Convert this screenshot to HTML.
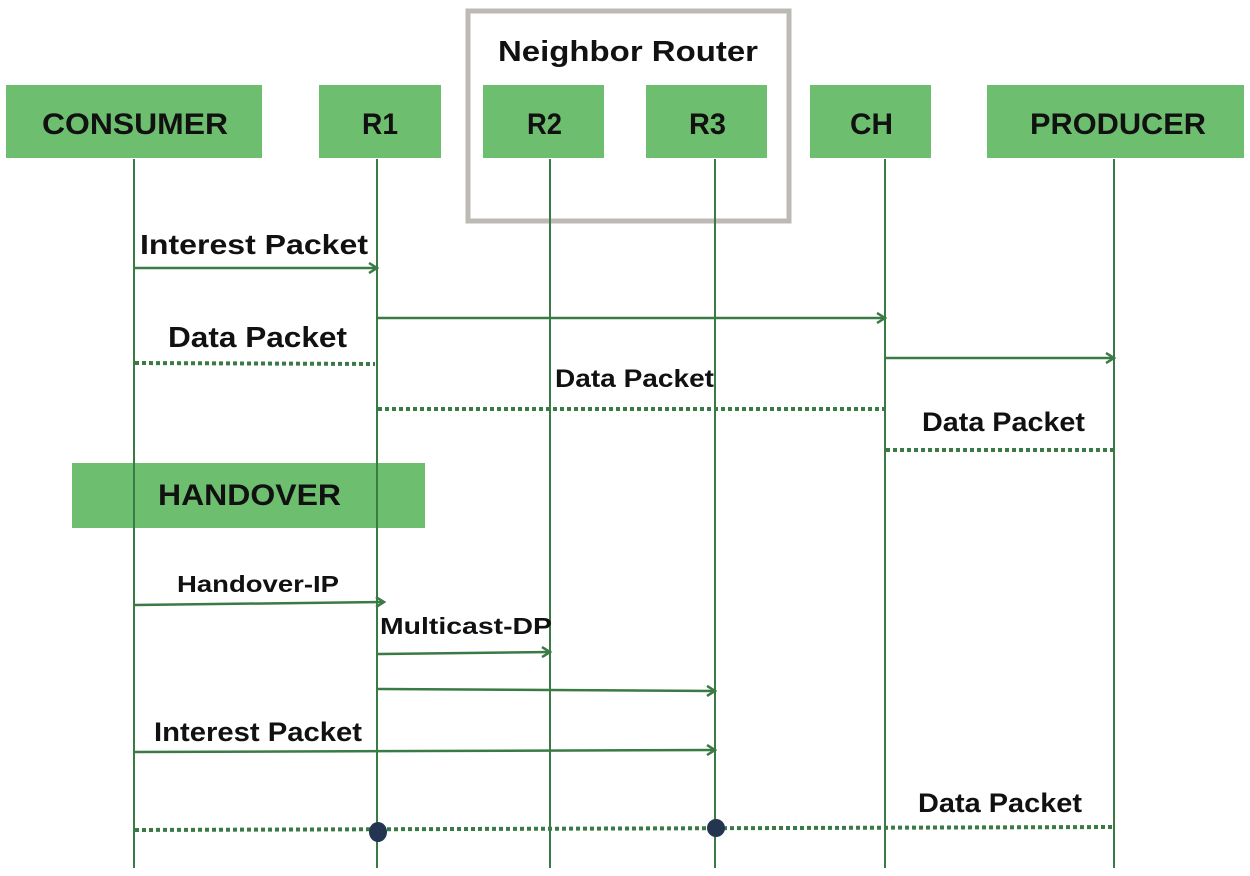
<!DOCTYPE html>
<html><head><meta charset="utf-8"><style>
html,body{margin:0;padding:0;background:#fff}
svg{display:block}
text{font-family:"Liberation Sans",sans-serif;font-weight:bold;fill:#111}
</style></head><body>
<svg width="1250" height="876" viewBox="0 0 1250 876" xmlns="http://www.w3.org/2000/svg">
<defs>
<marker id="a" markerWidth="12" markerHeight="12" refX="10" refY="6" orient="auto" markerUnits="userSpaceOnUse">
<path d="M2,1 L10,6 L2,11" fill="none" stroke="#3a7a45" stroke-width="2.5"/>
</marker>
</defs>
<rect x="468" y="11" width="321" height="210" fill="none" stroke="#bdbab5" stroke-width="5"/>
<text x="498" y="61" font-size="29" textLength="260" lengthAdjust="spacingAndGlyphs">Neighbor Router</text>
<g fill="#6dbf6f">
<rect x="6" y="85" width="256" height="73"/>
<rect x="319" y="85" width="122" height="73"/>
<rect x="483" y="85" width="121" height="73"/>
<rect x="646" y="85" width="121" height="73"/>
<rect x="810" y="85" width="121" height="73"/>
<rect x="987" y="85" width="257" height="73"/>
<rect x="72" y="463" width="353" height="65"/>
</g>
<g font-size="30" lengthAdjust="spacingAndGlyphs">
<text x="42" y="134" textLength="186" lengthAdjust="spacingAndGlyphs">CONSUMER</text>
<text x="362" y="134" textLength="36" lengthAdjust="spacingAndGlyphs">R1</text>
<text x="527" y="134" textLength="35" lengthAdjust="spacingAndGlyphs">R2</text>
<text x="689" y="134" textLength="37" lengthAdjust="spacingAndGlyphs">R3</text>
<text x="850" y="134" textLength="43" lengthAdjust="spacingAndGlyphs">CH</text>
<text x="1030" y="134" textLength="176" lengthAdjust="spacingAndGlyphs">PRODUCER</text>
<text x="158" y="505" textLength="183" lengthAdjust="spacingAndGlyphs">HANDOVER</text>
</g>
<g stroke="#3a7a45" stroke-width="2" fill="none">
<line x1="134" y1="159" x2="134" y2="868"/>
<line x1="377" y1="159" x2="377" y2="868"/>
<line x1="550" y1="159" x2="550" y2="868"/>
<line x1="715" y1="159" x2="715" y2="868"/>
<line x1="885" y1="159" x2="885" y2="868"/>
<line x1="1114" y1="159" x2="1114" y2="868"/>
</g>
<g stroke="#3a7a45" stroke-width="2.5" fill="none" marker-end="url(#a)">
<line x1="135" y1="268" x2="377" y2="268"/>
<line x1="378" y1="318" x2="885" y2="318"/>
<line x1="886" y1="358" x2="1114" y2="358"/>
<line x1="135" y1="605" x2="384" y2="602"/>
<line x1="378" y1="654" x2="550" y2="652"/>
<line x1="378" y1="689" x2="715" y2="691"/>
<line x1="135" y1="752" x2="715" y2="750"/>
</g>
<g stroke="#3a7a45" stroke-width="4" fill="none" stroke-dasharray="4,3">
<line x1="135" y1="363" x2="375" y2="364"/>
<line x1="378" y1="409" x2="884" y2="409"/>
<line x1="886" y1="450" x2="1113" y2="450"/>
<line x1="135" y1="830" x2="1112" y2="827"/>
</g>
<ellipse cx="378" cy="832" rx="9" ry="10" fill="#243552"/>
<ellipse cx="716" cy="828" rx="9" ry="9" fill="#243552"/>
<text x="140" y="254" font-size="28" textLength="228" lengthAdjust="spacingAndGlyphs">Interest Packet</text>
<text x="168" y="347" font-size="29" textLength="179" lengthAdjust="spacingAndGlyphs">Data Packet</text>
<text x="555" y="387" font-size="25" textLength="159" lengthAdjust="spacingAndGlyphs">Data Packet</text>
<text x="922" y="431" font-size="27" textLength="163" lengthAdjust="spacingAndGlyphs">Data Packet</text>
<text x="177" y="592" font-size="23" textLength="162" lengthAdjust="spacingAndGlyphs">Handover-IP</text>
<text x="380" y="634" font-size="23" textLength="172" lengthAdjust="spacingAndGlyphs">Multicast-DP</text>
<text x="154" y="741" font-size="27" textLength="208" lengthAdjust="spacingAndGlyphs">Interest Packet</text>
<text x="918" y="812" font-size="27" textLength="164" lengthAdjust="spacingAndGlyphs">Data Packet</text>
</svg>
</body></html>
